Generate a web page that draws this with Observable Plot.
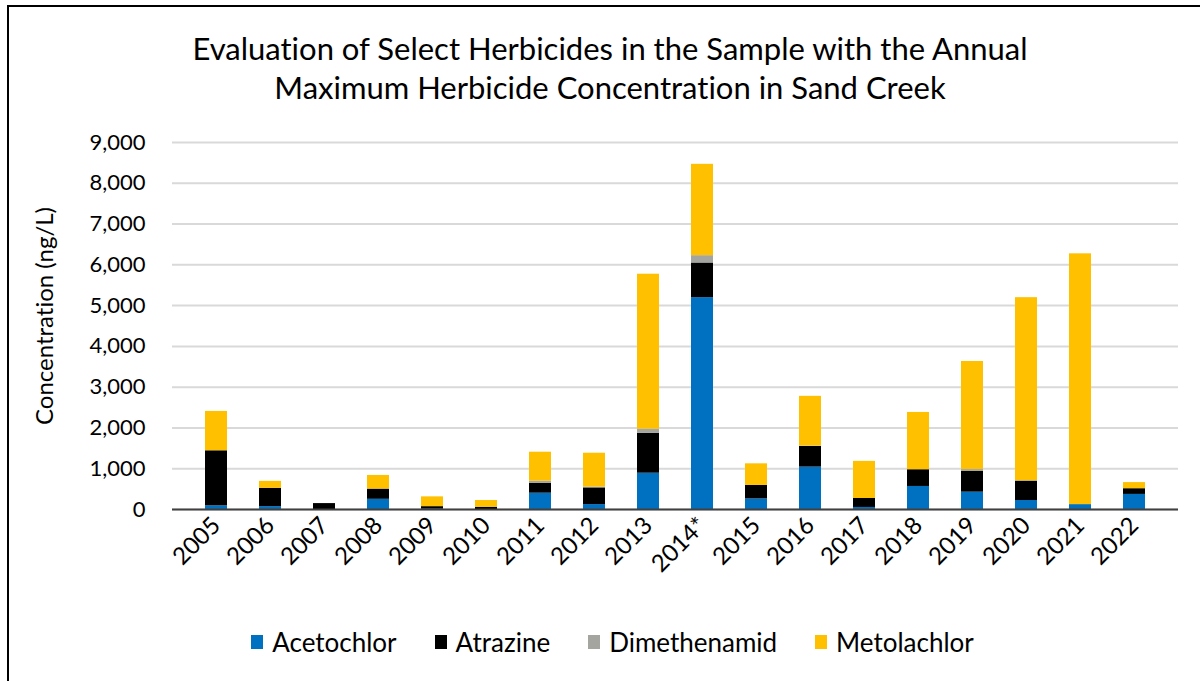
<!DOCTYPE html>
<html>
<head>
<meta charset="utf-8">
<script src="https://cdn.jsdelivr.net/npm/d3@7"></script>
<script src="https://cdn.jsdelivr.net/npm/@observablehq/plot@0.6"></script>
<style>
  html, body { margin: 0; padding: 0; background: #fff; }
  body { width: 1200px; height: 681px; position: relative; overflow: hidden; font-family: Lato, "Open Sans", sans-serif; color: #000; font-variant-ligatures: none; }
  #frame { position: absolute; left: 7px; top: 5px; width: 1300px; height: 800px; border-left: 2px solid #000; border-top: 2px solid #000; box-sizing: border-box; }
  #title { position: absolute; left: 0; top: 29px; width: 1220px; text-align: center; font-size: 31px; line-height: 39px; }
  #chart { position: absolute; left: 0; top: 110px; }
  #chart svg text { font-variant-ligatures: none; }
  #ylabel { position: absolute; left: 43px; top: 316px; transform: translate(-50%, -50%) rotate(-90deg); font-size: 24px; white-space: nowrap; }
  #legend { position: absolute; left: 0; top: 626px; width: 1225px; display: flex; justify-content: center; font-size: 26px; }
  .item { display: flex; align-items: center; margin: 0 19px; }
  .sw { width: 12px; height: 14px; margin-right: 9px; }
</style>
</head>
<body>
<div id="frame"></div>
<div id="title">Evaluation of Select Herbicides in the Sample with the Annual<br>Maximum Herbicide Concentration in Sand Creek</div>
<div id="ylabel">Concentration (ng/L)</div>
<div id="chart"></div>
<div id="legend"></div>
<script>
const years = ["2005","2006","2007","2008","2009","2010","2011","2012","2013","2014*","2015","2016","2017","2018","2019","2020","2021","2022"];
const seriesNames = ["Acetochlor","Atrazine","Dimethenamid","Metolachlor"];
const seriesColors = ["#0070C0","#000000","#A5A5A0","#FFC000"];
const acetochlor   = [90, 70, 0, 250, 10, 0, 400, 120, 890, 5195, 260, 1040, 50, 565, 425, 220, 120, 370];
const atrazine     = [1350, 450, 145, 250, 60, 55, 245, 410, 980, 850, 330, 505, 220, 410, 515, 475, 0, 140];
const dimethenamid = [0, 0, 0, 0, 0, 0, 50, 20, 100, 180, 0, 10, 0, 0, 40, 10, 0, 0];
const metolachlor  = [965, 170, 0, 335, 240, 165, 710, 830, 3800, 2240, 530, 1220, 910, 1405, 2650, 4490, 6150, 150];
const yTicks = [0,1000,2000,3000,4000,5000,6000,7000,8000,9000];

const seriesValues = [acetochlor, atrazine, dimethenamid, metolachlor];
const data = [];
seriesNames.forEach((s, i) => years.forEach((y, j) => data.push({year: y, series: s, value: seriesValues[i][j]})));

const fmt = d3.format(",");
const chart = Plot.plot({
  width: 1200,
  height: 500,
  marginLeft: 172,
  marginRight: 22,
  marginTop: 32,
  marginBottom: 101,
  style: {fontFamily: "Lato, 'Open Sans', sans-serif", fontSize: "22px", color: "#000", background: "transparent"},
  x: {domain: years, padding: 0.6, label: null},
  y: {domain: [0, 9000], label: null},
  color: {domain: seriesNames, range: seriesColors},
  marks: [
    Plot.gridY(yTicks, {stroke: "#d9d9d9", strokeOpacity: 1, strokeWidth: 2}),
    Plot.barY(data, Plot.stackY({order: seriesNames, x: "year", y: "value", fill: "series"})),
    Plot.ruleY([0], {stroke: "#404040", strokeWidth: 2}),
    Plot.axisY(yTicks, {tickSize: 0, tickPadding: 27, tickFormat: fmt, fontSize: 22, label: null}),
    Plot.axisX({tickSize: 0, tickRotate: -45, tickPadding: 12, fontSize: 24, label: null})
  ]
});
document.getElementById("chart").appendChild(chart);

const legend = document.getElementById("legend");
seriesNames.forEach((s, i) => {
  const it = document.createElement("div");
  it.className = "item";
  const sw = document.createElement("span");
  sw.className = "sw";
  sw.style.background = seriesColors[i];
  const tx = document.createElement("span");
  tx.textContent = s;
  it.appendChild(sw); it.appendChild(tx);
  legend.appendChild(it);
});
</script>
</body>
</html>
